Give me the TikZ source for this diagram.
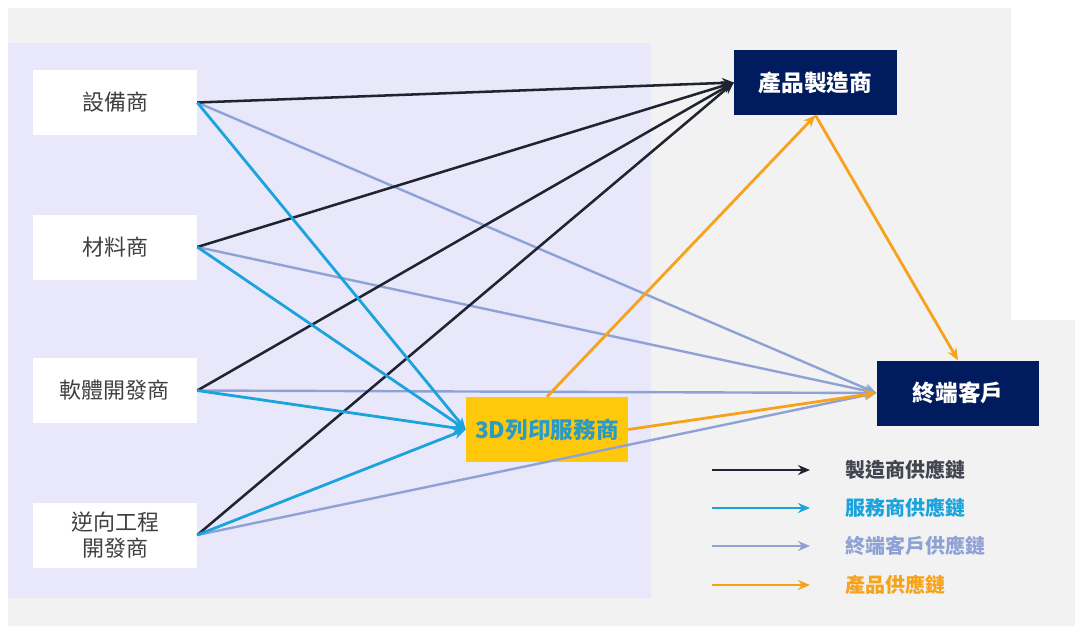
\documentclass[tikz,border=0pt]{standalone}
\usepackage{fontspec}
\newfontfamily\cjk{Noto Sans CJK TC}
\usetikzlibrary{arrows.meta}
\definecolor{bggray}{HTML}{F2F2F2}
\definecolor{lav}{HTML}{E8E8FA}
\definecolor{navy}{HTML}{001C5E}
\definecolor{gold}{HTML}{FFC80A}
\definecolor{darkln}{HTML}{1F2430}
\definecolor{blueln}{HTML}{1AA3DC}
\definecolor{lightln}{HTML}{8EA2D6}
\definecolor{orangeln}{HTML}{F7A21B}
\definecolor{tealtxt}{HTML}{2A9BC4}
\definecolor{graytxt}{HTML}{404040}
\tikzset{
  leftbox/.style={fill=white, draw=none, minimum width=123pt, minimum height=48.75pt, align=center, font=\cjk\fontsize{16.5}{20}\selectfont, text=graytxt, inner sep=0pt},
  navybox/.style={fill=navy, draw=none, minimum width=122pt, minimum height=48.75pt, font=\cjk\bfseries\fontsize{17}{20}\selectfont, text=white, inner sep=0pt},
  goldbox/.style={fill=gold, draw=none, minimum width=121.5pt, minimum height=48.75pt, font=\cjk\bfseries\fontsize{17}{20}\selectfont, text=tealtxt, inner sep=0pt},
  tip/.style={-{Stealth[length=9pt,width=7.5pt]}},
  mline/.style={tip, draw=darkln, line width=1.9pt},
  sline/.style={tip, draw=blueln, line width=2.1pt},
  eline/.style={tip, draw=lightln, line width=1.8pt},
  pline/.style={tip, draw=orangeln, line width=2.1pt},
  legtxt/.style={anchor=west, font=\cjk\bfseries\fontsize{15}{18}\selectfont, inner sep=0pt}
}
\begin{document}
\begin{tikzpicture}[x=0.75pt,y=-0.75pt]
\useasboundingbox (0,0) rectangle (1075,626);
\fill[white] (0,0) rectangle (1075,626);
\fill[bggray] (8,8) -- (1011,8) -- (1011,320) -- (1075,320) -- (1075,626) -- (8,626) -- cycle;
\fill[lav] (8,43) rectangle (651,598);

\node[leftbox] (s1) at (115,102.5) {設備商};
\node[leftbox] (s2) at (115,247) {材料商};
\node[leftbox] (s3) at (115,390.5) {軟體開發商};
\node[leftbox] (s4) at (115,535) {逆向工程\\[-1pt]開發商};

\node[navybox] (mfr) at (815.5,82.5) {產品製造商};
\node[navybox] (end) at (958,393) {終端客戶};
\node[goldbox] (svc) at (547,429.5) {3D列印服務商};

\foreach \s in {s1,s2,s3,s4}{
  \draw[eline] (\s.east) -- (end.west);
}
\foreach \s in {s1,s2,s3,s4}{
  \draw[mline] (\s.east) -- (mfr.west);
}
\foreach \s in {s1,s2,s3,s4}{
  \draw[sline] (\s.east) -- (svc.west);
}
\draw[pline] (svc.north) -- (mfr.south);
\draw[pline] (mfr.south) -- (end.north);
\draw[pline] (svc.east) -- (end.west);

\coordinate (l1a) at (712,470); \coordinate (l1b) at (810,470);
\coordinate (l2a) at (712,508); \coordinate (l2b) at (810,508);
\coordinate (l3a) at (712,546); \coordinate (l3b) at (810,546);
\coordinate (l4a) at (712,585); \coordinate (l4b) at (810,585);
\draw[mline] (l1a) -- (l1b);
\draw[sline] (l2a) -- (l2b);
\draw[eline] (l3a) -- (l3b);
\draw[pline] (l4a) -- (l4b);
\node[legtxt, text=darkln!85] (t1) at (845,470) {製造商供應鏈};
\node[legtxt, text=blueln] (t2) at (845,508) {服務商供應鏈};
\node[legtxt, text=lightln] (t3) at (845,546) {終端客戶供應鏈};
\node[legtxt, text=orangeln] (t4) at (845,585) {產品供應鏈};
\end{tikzpicture}
\end{document}
